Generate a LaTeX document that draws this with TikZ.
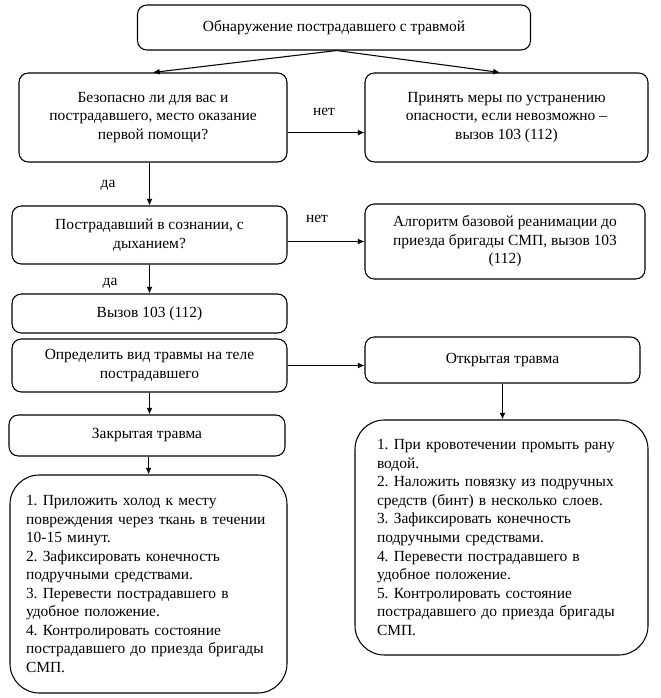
\documentclass[tikz,border=0pt]{standalone}
\usepackage{fontspec}
\setmainfont{Liberation Serif}
\usetikzlibrary{arrows.meta}
\begin{document}
\frenchspacing
\begin{tikzpicture}[x=0.75pt,y=-0.75pt,
  txt/.style={font=\fontsize{11.6}{13.9}\selectfont\frenchspacing},
  box/.style={txt,draw,line width=0.8pt,rounded corners=7pt,align=center,inner sep=0pt},
  bigbox/.style={txt,draw,line width=0.8pt,rounded corners=22pt,align=left,inner ysep=0pt},
  arr/.style={-{Latex[length=5pt,width=4.5pt]},line width=0.8pt},
  lbl/.style={txt,inner sep=0pt}]
\useasboundingbox (0,0) rectangle (660,698);
\node[box,minimum width=294.75pt,minimum height=33.75pt] (A) at (334,27.5) {Обнаружение пострадавшего с травмой};
\node[box,minimum width=201pt,minimum height=66.75pt] (B) at (153,117.5) {Безопасно ли для вас и\\пострадавшего, место оказание\\первой помощи?};
\node[box,minimum width=212.25pt,minimum height=66.75pt] (C) at (506.5,117.5) {Принять меры по устранению\\опасности, если невозможно –\\вызов 103 (112)};
\node[box,minimum width=206.25pt,minimum height=43.5pt] (D) at (149.5,235) {Пострадавший в сознании, с\\дыханием?};
\node[box,minimum width=210pt,minimum height=56.25pt] (E) at (505,241.5) {Алгоритм базовой реанимации до\\приезда бригады СМП, вызов 103\\(112)};
\node[box,minimum width=206.25pt,minimum height=29.25pt] (F) at (149.5,313.5) {Вызов 103 (112)};
\node[box,minimum width=206.25pt,minimum height=39.75pt] (G) at (149.5,365.5) {Определить вид травмы на теле\\пострадавшего};
\node[box,minimum width=206.25pt,minimum height=34.5pt] (H) at (502.5,360) {Открытая травма};
\node[box,minimum width=207pt,minimum height=30.75pt] (I) at (147,435.5) {Закрытая травма};
\node[bigbox,minimum width=207.75pt,minimum height=163.5pt,inner xsep=12pt,text width=183.75pt] (J) at (148.5,584) {1. Приложить холод к месту\\повреждения через ткань в течении\\10-15 минут.\\2. Зафиксировать конечность\\подручными средствами.\\3. Перевести пострадавшего в\\удобное положение.\\4. Контролировать состояние\\пострадавшего до приезда бригады\\СМП.};
\node[bigbox,minimum width=219.75pt,minimum height=176.25pt,inner xsep=16.5pt,text width=186.75pt] (K) at (501.5,537.5) {1. При кровотечении промыть рану\\водой.\\2. Наложить повязку из подручных\\средств (бинт) в несколько слоев.\\3. Зафиксировать конечность\\подручными средствами.\\4. Перевести пострадавшего в\\удобное положение.\\5. Контролировать состояние\\пострадавшего до приезда бригады\\СМП.};
\node[lbl] (n1) at (324,112) {нет};
\node[lbl] (y1) at (108,185) {да};
\node[lbl] (n2) at (317,219) {нет};
\node[lbl] (y2) at (110,283) {да};
\draw[arr] ([xshift=2pt]A.south) -- (B.north);
\draw[arr] ([xshift=2pt]A.south) -- ([xshift=-5pt]C.north);
\draw[arr] ([yshift=-11.3pt]B.east) -- ([yshift=-11.3pt]C.west);
\draw[arr] (B.south -| D.north) -- (D.north);
\draw[arr] (E.west -| D.east) -- (E.west);
\draw[arr] (D.south) -- (F.north);
\draw[arr] (G.east) -- (G.east -| H.west);
\draw[arr] (G.south) -- (G.south |- I.north);
\draw[arr] (H.south) -- (H.south |- K.north);
\draw[arr] (I.south -| J.north) -- (J.north);
\end{tikzpicture}
\end{document}
